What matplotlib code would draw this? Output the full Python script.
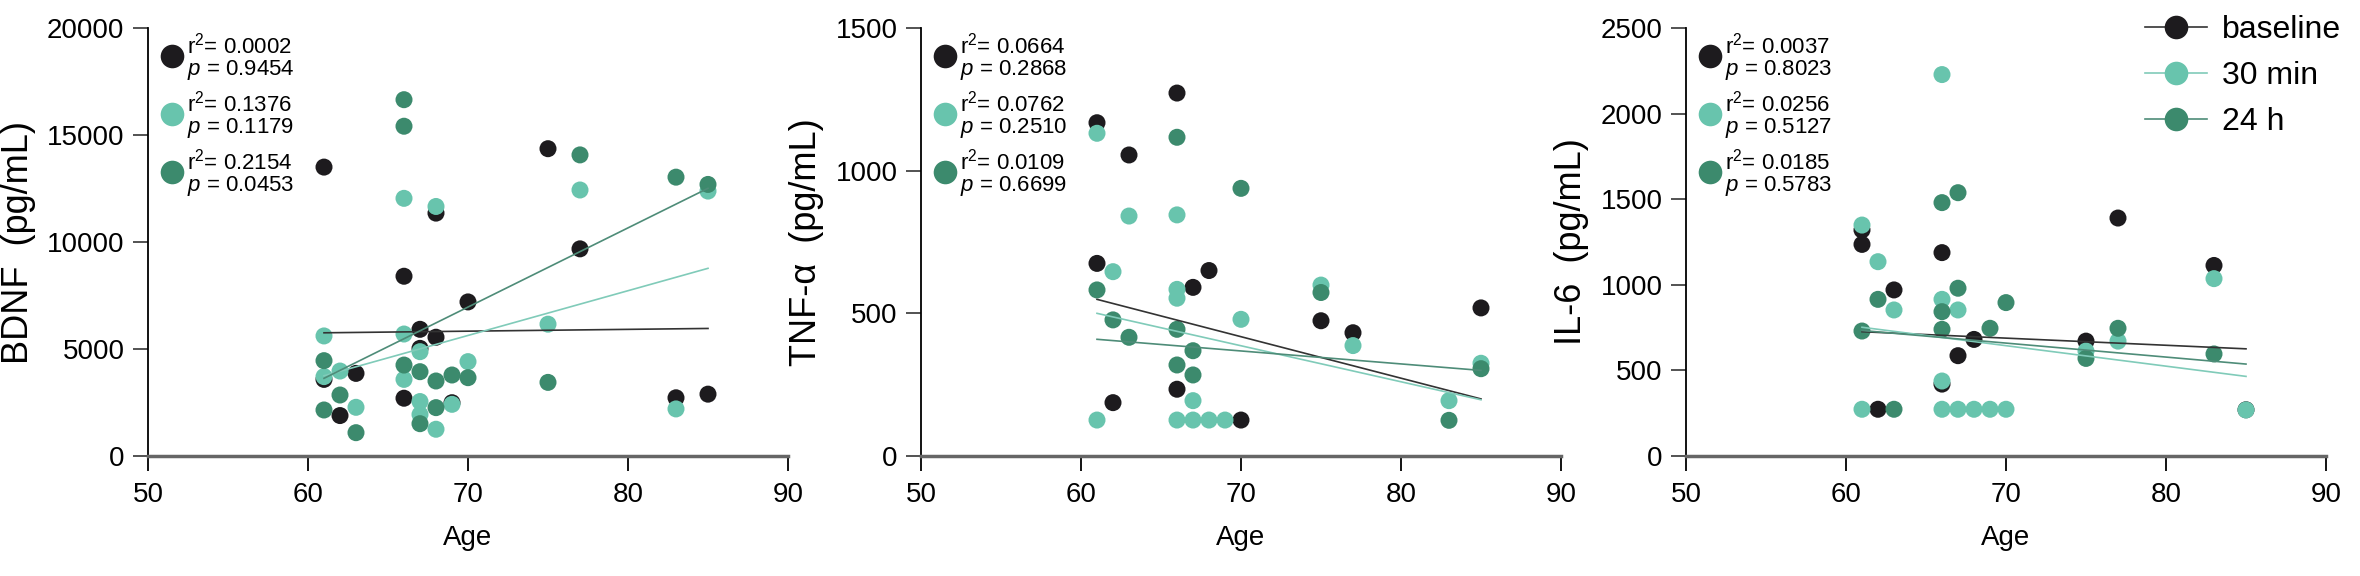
import numpy as np
import matplotlib.pyplot as plt
from matplotlib.lines import Line2D

plt.rcParams['font.family'] = ['Liberation Sans', 'DejaVu Sans']
plt.rcParams['mathtext.fontset'] = 'custom'
plt.rcParams['mathtext.rm'] = 'Liberation Sans'
plt.rcParams['mathtext.it'] = 'Liberation Sans:italic'

groups = ['baseline', '30 min', '24 h']
colors = ['#1d1b1e', '#68c4ad', '#3c8a6d']
line_colors = ['#333333', '#80cbb9', '#4e8c78']

# BDNF (pg/mL)
bdnf_base_age = [61, 61, 62, 63, 66, 66, 67, 67, 68, 68, 69, 70, 75, 77, 83, 85]
bdnf_base_val = [13500, 3580, 1890, 3860, 8400, 2700, 5920, 5030, 5550, 11350, 2490, 7200, 14360, 9680, 2720, 2890]
bdnf_30_age = [61, 61, 62, 63, 66, 66, 66, 67, 67, 67, 68, 68, 69, 70, 75, 77, 83, 85]
bdnf_30_val = [5610, 3710, 3970, 2275, 12040, 5700, 3580, 4875, 2545, 1940, 11660, 1250, 2415, 4410, 6160, 12430, 2200, 12380]
bdnf_24_age = [61, 61, 62, 63, 66, 66, 66, 67, 67, 68, 68, 69, 70, 75, 77, 83, 85]
bdnf_24_val = [4455, 2150, 2850, 1090, 16650, 15410, 4250, 3940, 1510, 3505, 2260, 3785, 3660, 3440, 14070, 13030, 12690]

# TNF-alpha (pg/mL)
tnf_base_age = [61, 61, 62, 63, 66, 66, 67, 68, 70, 75, 77, 85]
tnf_base_val = [1168, 675, 187, 1055, 1272, 234, 591, 650, 126, 474, 432, 519]
tnf_30_age = [61, 61, 62, 63, 66, 66, 66, 66, 67, 67, 68, 69, 70, 75, 77, 83, 85]
tnf_30_val = [1131, 126, 646, 841, 845, 584, 553, 126, 194, 126, 126, 126, 479, 599, 387, 194, 325]
tnf_24_age = [61, 62, 63, 66, 66, 66, 67, 67, 70, 75, 83, 85]
tnf_24_val = [582, 477, 416, 1117, 444, 319, 369, 284, 938, 573, 125, 306]

# IL-6 (pg/mL)
il6_base_age = [61, 61, 62, 63, 66, 66, 67, 68, 75, 77, 83, 85]
il6_base_val = [1320, 1236, 273, 970, 1188, 420, 586, 681, 671, 1390, 1113, 270]
il6_30_age = [61, 61, 62, 63, 66, 66, 66, 66, 67, 67, 68, 69, 70, 75, 77, 83, 85]
il6_30_val = [1349, 273, 1135, 853, 2228, 915, 438, 273, 853, 273, 273, 273, 273, 613, 671, 1036, 269]
il6_24_age = [61, 62, 63, 66, 66, 66, 67, 67, 69, 70, 75, 77, 83]
il6_24_val = [730, 915, 273, 1480, 843, 740, 1538, 980, 746, 896, 570, 746, 596]

# linear fits: value at age 61 and at age 85
fit_age = [61, 85]
bdnf_fit = [[5757, 5960], [3750, 8770], [3630, 12510]]
tnf_fit = [[549, 200], [500, 197], [409, 300]]
il6_fit = [[726, 626], [752, 465], [733, 537]]

bdnf_r2 = ['0.0002', '0.1376', '0.2154']
bdnf_p = ['0.9454', '0.1179', '0.0453']
tnf_r2 = ['0.0664', '0.0762', '0.0109']
tnf_p = ['0.2868', '0.2510', '0.6699']
il6_r2 = ['0.0037', '0.0256', '0.0185']
il6_p = ['0.8023', '0.5127', '0.5783']

panels = [
    ('BDNF  (pg/mL)', 20000, 5000,
     [(bdnf_base_age, bdnf_base_val), (bdnf_30_age, bdnf_30_val), (bdnf_24_age, bdnf_24_val)],
     bdnf_fit, bdnf_r2, bdnf_p),
    ('TNF-α  (pg/mL)', 1500, 500,
     [(tnf_base_age, tnf_base_val), (tnf_30_age, tnf_30_val), (tnf_24_age, tnf_24_val)],
     tnf_fit, tnf_r2, tnf_p),
    ('IL-6  (pg/mL)', 2500, 500,
     [(il6_base_age, il6_base_val), (il6_30_age, il6_30_val), (il6_24_age, il6_24_val)],
     il6_fit, il6_r2, il6_p),
]

fig = plt.figure(figsize=(23.6, 5.76), dpi=100)
lefts = [148, 921, 1686]
draw_order = [0, 2, 1]  # baseline, 24 h, then 30 min on top

for k, (ylabel, ymax, ystep, series, fits, r2s, ps) in enumerate(panels):
    ax = fig.add_axes([lefts[k] / 2360, 120 / 576, 640 / 2360, 428 / 576])

    for g in draw_order:
        ages, vals = series[g]
        ax.scatter(ages, vals, s=150, color=colors[g], edgecolors='none',
                   zorder=3 + g, clip_on=False)
    for g in range(3):
        ax.plot(fit_age, fits[g], color=line_colors[g], lw=1.2, zorder=10)

    ax.set_xlim(50, 90)
    ax.set_ylim(0, ymax)
    ax.set_xticks(np.arange(50, 91, 10))
    ax.set_yticks(np.arange(0, ymax + 1, ystep))
    ax.spines['top'].set_visible(False)
    ax.spines['right'].set_visible(False)
    ax.spines['left'].set_linewidth(1.3)
    ax.spines['bottom'].set_linewidth(2.5)
    ax.spines['bottom'].set_color('#666666')
    ax.tick_params(axis='y', length=11, width=1.3, pad=6, labelsize=20, color='#444444')
    ax.tick_params(axis='x', length=11, width=1.3, pad=8, labelsize=20)
    ax.set_ylabel(ylabel, fontsize=26, labelpad=8)
    ax.set_xlabel('Age', fontsize=20, labelpad=12)

    # per-group stats next to a colored dot
    for g in range(3):
        yc = 0.935 - g * 0.1355
        ax.plot([0.0375], [yc], 'o', ms=17, color=colors[g], mec='none',
                transform=ax.transAxes, clip_on=False, zorder=12)
        ax.text(0.061, yc + 0.024, 'r$^2$= ' + r2s[g], fontsize=16,
                transform=ax.transAxes, va='center', ha='left')
        ax.text(0.061, yc - 0.032, '$\\mathit{p}$ = ' + ps[g], fontsize=16,
                transform=ax.transAxes, va='center', ha='left')

    if k == 2:
        handles = [Line2D([], [], color=line_colors[g], lw=1.2, marker='o', ms=17,
                          markerfacecolor=colors[g], markeredgecolor='none')
                   for g in range(3)]
        ax.legend(handles, groups, loc='upper left', bbox_to_anchor=(0.717, 1.03),
                  frameon=False, fontsize=23, handlelength=1.95, handletextpad=0.45,
                  labelspacing=0.5, borderpad=0, borderaxespad=0)

fig.savefig('out.png', dpi=100)
